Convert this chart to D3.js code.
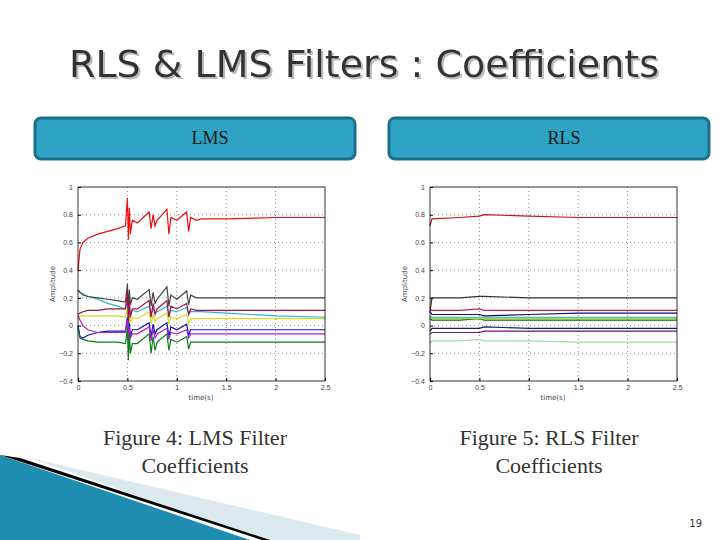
<!DOCTYPE html><html><head><meta charset="utf-8">
<script src="https://cdn.jsdelivr.net/npm/d3@7"></script>
<style>body{margin:0;background:#fff}svg{display:block}</style></head><body>
<svg id="s" width="720" height="540"></svg>
<script>
const yTicks=[-0.4,-0.2,0,0.2,0.4,0.6,0.8,1];
const xTicks=[0,0.5,1,1.5,2,2.5];
const lmsTime=[0,0.02,0.05,0.1,0.2,0.3,0.4,0.48,0.5,0.51,0.52,0.53,0.55,0.6,0.72,0.74,0.76,0.78,0.8,0.9,0.92,0.94,1.0,1.1,1.12,1.14,1.2,1.25,1.5,2.0,2.5];
const lmsRed=[0.40,0.55,0.60,0.63,0.66,0.68,0.70,0.72,0.92,0.62,0.85,0.66,0.76,0.74,0.82,0.70,0.80,0.72,0.76,0.84,0.66,0.78,0.76,0.82,0.68,0.78,0.76,0.77,0.77,0.78,0.78];
const lmsGray=[0.26,0.24,0.22,0.21,0.20,0.19,0.18,0.17,0.30,0.12,0.26,0.15,0.20,0.19,0.26,0.14,0.24,0.16,0.19,0.28,0.14,0.22,0.19,0.25,0.15,0.22,0.20,0.20,0.20,0.20,0.20];
const lmsCyan=[0.25,0.24,0.23,0.21,0.19,0.16,0.14,0.12,0.18,0.06,0.14,0.08,0.11,0.10,0.14,0.07,0.13,0.09,0.10,0.14,0.07,0.11,0.10,0.13,0.08,0.10,0.10,0.10,0.09,0.07,0.06];
const lmsCrimson=[0.08,0.09,0.10,0.11,0.11,0.12,0.12,0.12,0.24,0.02,0.18,0.06,0.12,0.12,0.18,0.06,0.16,0.08,0.12,0.18,0.06,0.14,0.12,0.16,0.08,0.12,0.11,0.11,0.11,0.11,0.11];
const lmsYellow=[0.06,0.07,0.07,0.07,0.07,0.07,0.07,0.06,0.12,0.0,0.10,0.02,0.06,0.05,0.10,0.01,0.08,0.03,0.05,0.09,0.01,0.06,0.05,0.08,0.02,0.05,0.05,0.05,0.05,0.05,0.05];
const lmsBlue=[0.0,-0.08,-0.09,-0.07,-0.05,-0.04,-0.04,-0.04,0.06,-0.12,0.02,-0.08,-0.03,-0.03,0.02,-0.08,0.01,-0.06,-0.03,0.02,-0.08,-0.01,-0.03,0.01,-0.07,-0.03,-0.03,-0.03,-0.03,-0.03,-0.03];
const lmsPurple=[0.07,0.04,0.0,-0.03,-0.05,-0.05,-0.05,-0.05,0.04,-0.12,-0.01,-0.09,-0.06,-0.06,-0.01,-0.11,-0.03,-0.09,-0.06,-0.02,-0.1,-0.05,-0.06,-0.03,-0.09,-0.06,-0.06,-0.06,-0.06,-0.06,-0.06];
const lmsGreen=[-0.02,-0.09,-0.1,-0.11,-0.12,-0.12,-0.12,-0.13,-0.02,-0.25,-0.06,-0.2,-0.13,-0.13,-0.06,-0.2,-0.08,-0.18,-0.12,-0.06,-0.18,-0.1,-0.12,-0.08,-0.17,-0.12,-0.12,-0.12,-0.12,-0.12,-0.12];
const rlsTime=[0,0.02,0.3,0.5,0.55,1,1.5,2.5];
const rlsRed=[0.72,0.77,0.78,0.79,0.80,0.79,0.78,0.78];
const rlsGray=[0.10,0.20,0.20,0.21,0.21,0.20,0.20,0.20];
const rlsCrimson=[0.12,0.11,0.11,0.12,0.11,0.11,0.11,0.11];
const rlsNavy=[0.10,0.08,0.08,0.08,0.07,0.08,0.09,0.09];
const rlsTeal=[0.07,0.06,0.06,0.06,0.06,0.06,0.06,0.06];
const rlsGreen=[0.05,0.04,0.04,0.05,0.04,0.04,0.04,0.04];
const rlsLime=[0.06,0.05,0.05,0.05,0.05,0.05,0.05,0.05];
const rlsNavy2=[-0.04,-0.02,-0.02,-0.02,-0.01,-0.02,-0.02,-0.02];
const rlsPurple=[-0.06,-0.05,-0.05,-0.05,-0.04,-0.04,-0.04,-0.04];
const rlsLight=[-0.13,-0.11,-0.11,-0.10,-0.11,-0.11,-0.12,-0.12];

const svg=d3.select('#s');
const f=svg.append('defs').append('filter').attr('id','sh');
f.append('feDropShadow').attr('dx',2).attr('dy',2).attr('stdDeviation',0.5).attr('flood-color','#bbb');
svg.append('path').attr('d','M30,458 L360,535 L360,540 L262,540 Z').attr('fill','#dbe9ee');
svg.append('path').attr('d','M0,455 L0,540 L250,540 Z').attr('fill','#1f8db0');
svg.append('path').attr('d','M0,455 L262,540 L270,540 L20,458Z').attr('fill','#000');

svg.append('text').attr('x',364).attr('y',77).attr('text-anchor','middle').attr('font-family','DejaVu Sans').attr('font-size',38).attr('fill','#333').attr('filter','url(#sh)').text('RLS & LMS Filters : Coefficients');
[[35,'LMS'],[389,'RLS']].forEach(([x,t])=>{
 svg.append('rect').attr('x',x).attr('y',118).attr('width',320).attr('height',41).attr('rx',6).attr('fill','#2ea3c4').attr('stroke','#1c6f8a').attr('stroke-width',3);
 svg.append('text').attr('x',x+175).attr('y',144).attr('text-anchor','middle').attr('font-family','Liberation Serif').attr('font-size',18).attr('fill','#1a1a1a').text(t);
});
[[195,'Figure 4: LMS Filter'],[549,'Figure 5: RLS Filter']].forEach(([x,t])=>{
 svg.append('text').attr('x',x).attr('y',445).attr('text-anchor','middle').attr('font-family','Liberation Serif').attr('font-size',22).attr('fill','#333').text(t);
 svg.append('text').attr('x',x).attr('y',473).attr('text-anchor','middle').attr('font-family','Liberation Serif').attr('font-size',22).attr('fill','#333').text('Coefficients');
});
svg.append('text').attr('x',702).attr('y',527).attr('text-anchor','end').attr('font-family','DejaVu Sans').attr('font-size',10).attr('fill','#333').text('19');

function plot(x0,time,series){
 const x=d3.scaleLinear().domain([0,2.5]).range([x0,x0+247]);
 const y=d3.scaleLinear().domain([-0.4,1]).range([381,187]);
 const g=svg.append('g');
 xTicks.slice(1,-1).forEach(v=>g.append('line').attr('x1',x(v)).attr('x2',x(v)).attr('y1',187).attr('y2',381).attr('stroke','#555').attr('stroke-width',0.7).attr('stroke-dasharray','1,3'));
 yTicks.slice(1,-1).forEach(v=>g.append('line').attr('x1',x0).attr('x2',x0+247).attr('y1',y(v)).attr('y2',y(v)).attr('stroke','#555').attr('stroke-width',0.7).attr('stroke-dasharray','1,3'));
 const line=d3.line().x((d,i)=>x(time[i])).y(d=>y(d));
 series.forEach(([vals,c])=>g.append('path').attr('d',line(vals)).attr('fill','none').attr('stroke',c).attr('stroke-width',1.2));
 g.append('rect').attr('x',x0).attr('y',187).attr('width',247).attr('height',194).attr('fill','none').attr('stroke','#000').attr('stroke-width',0.8);
 g.append('g').attr('transform','translate(0,381)').call(d3.axisBottom(x).tickValues(xTicks).tickSize(-3).tickFormat(d3.format('')))
  .call(a=>{a.select('.domain').remove();a.selectAll('text').attr('font-size',7).attr('fill','#444').attr('dy','0.9em');});
 g.append('g').attr('transform',`translate(${x0},0)`).call(d3.axisLeft(y).tickValues(yTicks).tickSize(-3).tickFormat(d3.format('')))
  .call(a=>{a.select('.domain').remove();a.selectAll('text').attr('font-size',7).attr('fill','#444').attr('dx','-0.3em');});
 g.append('text').attr('x',x0+123).attr('y',400).attr('text-anchor','middle').attr('font-size',7).attr('font-family','DejaVu Sans').attr('fill','#444').text('time(s)');
 g.append('text').attr('transform',`translate(${x0-23},284) rotate(-90)`).attr('text-anchor','middle').attr('font-size',7).attr('font-family','DejaVu Sans').attr('fill','#444').text('Amplitude');
}
plot(78,lmsTime,[[lmsCyan,'#2ab8c0'],[lmsYellow,'#d8d820'],[lmsGray,'#444'],[lmsCrimson,'#a0104a'],[lmsBlue,'#1010d0'],[lmsPurple,'#b020c0'],[lmsGreen,'#107a20'],[lmsRed,'#ee1010']]);
plot(430,rlsTime,[[rlsRed,'#c01818'],[rlsGray,'#333'],[rlsCrimson,'#c02050'],[rlsNavy,'#101070'],[rlsTeal,'#30a0a0'],[rlsGreen,'#106010'],[rlsLime,'#a0e040'],[rlsNavy2,'#102060'],[rlsPurple,'#701070'],[rlsLight,'#a0e0a0']]);
</script></body></html>
